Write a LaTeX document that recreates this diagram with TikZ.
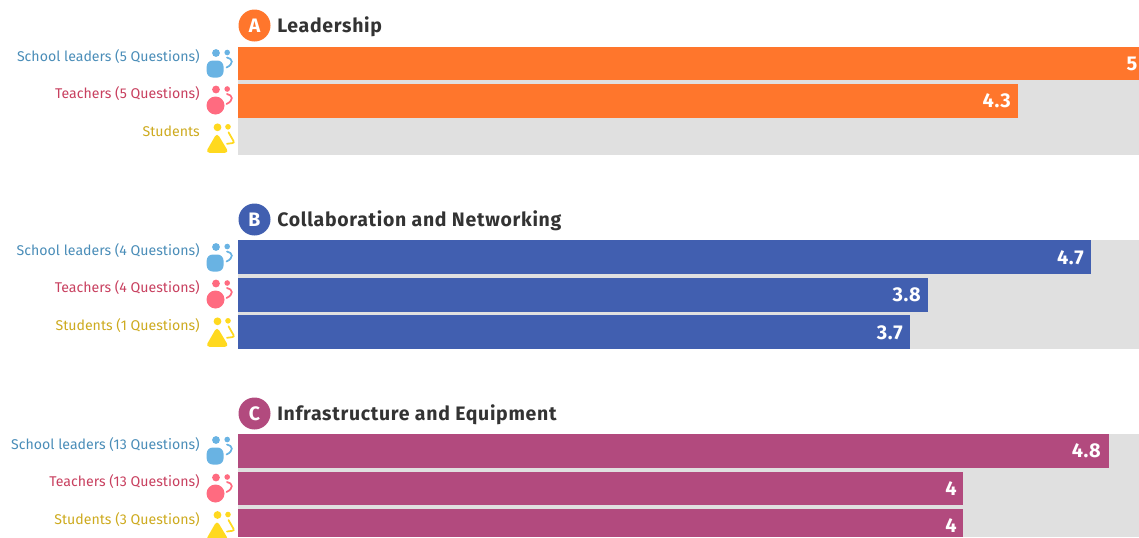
\documentclass[tikz,border=0pt]{standalone}
\usepackage{fontspec}
\setmainfont{Fira Sans}
\definecolor{track}{HTML}{E0E0E0}
\definecolor{cA}{HTML}{FF762C}
\definecolor{cB}{HTML}{415FB0}
\definecolor{cC}{HTML}{B24A7E}
\definecolor{tS}{HTML}{4A8DB8}
\definecolor{tT}{HTML}{C8405F}
\definecolor{tU}{HTML}{CDAA1E}
\definecolor{iS}{HTML}{69B3E3}
\definecolor{iT}{HTML}{FF6B80}
\definecolor{iU}{HTML}{FFD91F}
\definecolor{ink}{HTML}{333333}
\tikzset{
  rowlabel/.style={anchor=east,inner sep=0pt,font=\fontsize{10.6}{12}\selectfont},
  value/.style={anchor=east,inner sep=0pt,text=white,font=\fontsize{15}{16}\bfseries\selectfont\addfontfeature{LetterSpace=3}},
  badge/.style={circle,minimum size=24pt,inner sep=0pt,text=white,font=\fontsize{14.6}{16}\bfseries\selectfont},
  heading/.style={anchor=west,inner sep=0pt,text=ink,font=\fontsize{14.6}{16}\bfseries\selectfont\addfontfeature{LetterSpace=3.6}},
}
\newcommand{\trackbar}[3]{\fill[#3] (238,#1) rectangle (1139,#2);}
\newcommand{\valbar}[4]{\fill[#4] (238,#1) rectangle (#3,#2);}
\newcommand{\smallpart}[2]{%
  \fill[#2] (216,#1+4) circle (3.9);
  \fill[#2] (227.2,#1+3.5) circle (2.8);
  \draw[#2,line width=1.3pt,line cap=round] (227,#1+8.5) .. controls (233,#1+9.5) and (234,#1+15) .. (226.5,#1+18.5);
}
\newcommand{\iconS}[1]{\smallpart{#1}{iS}\fill[iS,rounded corners=4.5] (206.7,#1+11.5) rectangle (223.5,#1+28.5);}
\newcommand{\iconT}[1]{\smallpart{#1}{iT}\fill[iT] (215.5,#1+20) circle (9);}
\newcommand{\iconU}[1]{%
  \fill[iU] (217.5,#1+4) circle (3.9);
  \fill[iU] (228,#1+3.5) circle (2.8);
  \draw[iU,line width=1.3pt,line cap=round,rounded corners=1.5] (228.5,#1+9) -- (234.5,#1+19.5) -- (227,#1+20.5);
  \fill[iU,rounded corners=3] (217,#1+9.5) -- (229,#1+29.5) -- (205.5,#1+29.5) -- cycle;}
\begin{document}
\begin{tikzpicture}[x=0.75pt,y=-0.75pt]
\useasboundingbox (0,0) rectangle (1139,537);
\clip (0,0) rectangle (1139,537);
% Section A
\node[badge,fill=cA] (ba) at (254.5,25.5) {A};
\node[heading] (ha) at (277,26.5) {Leadership};
\trackbar{47}{155}{track}
\valbar{47}{80}{1139}{cA}
\valbar{84}{118}{1018}{cA}
\node[value] (a1) at (1137.5,64) {5};
\node[value] (a2) at (1011,101) {4.3};
\node[rowlabel,text=tS] (la1) at (200,56.5) {School leaders (5 Questions)};
\node[rowlabel,text=tT] (la2) at (200,94) {Teachers (5 Questions)};
\node[rowlabel,text=tU] (la3) at (200,131.5) {Students};
\iconS{49}\iconT{85.5}\iconU{123.3}
% Section B
\node[badge,fill=cB] (bb) at (254.5,219.5) {B};
\node[heading] (hb) at (277,220.5) {Collaboration and Networking};
\trackbar{240}{349}{track}
\valbar{240}{274}{1091}{cB}
\valbar{278}{312}{928}{cB}
\valbar{315}{349}{910}{cB}
\node[value] (b1) at (1084,258) {4.7};
\node[value] (b2) at (921,295) {3.8};
\node[value] (b3) at (903,332.5) {3.7};
\node[rowlabel,text=tS] (lb1) at (200,250.5) {School leaders (4 Questions)};
\node[rowlabel,text=tT] (lb2) at (200,288) {Teachers (4 Questions)};
\node[rowlabel,text=tU] (lb3) at (200,325.5) {Students (1 Questions)};
\iconS{243}\iconT{279.5}\iconU{317.3}
% Section C
\node[badge,fill=cC] (bc) at (254.5,413.5) {C};
\node[heading] (hc) at (277,414.5) {Infrastructure and Equipment};
\trackbar{434}{537}{track}
\valbar{434}{468}{1109}{cC}
\valbar{472}{505}{963}{cC}
\valbar{509}{537}{963}{cC}
\node[value] (c1) at (1101,451) {4.8};
\node[value] (c2) at (957,489) {4};
\node[value] (c3) at (957,526) {4};
\node[rowlabel,text=tS] (lc1) at (200,444.5) {School leaders (13 Questions)};
\node[rowlabel,text=tT] (lc2) at (200,482) {Teachers (13 Questions)};
\node[rowlabel,text=tU] (lc3) at (200,519.5) {Students (3 Questions)};
\iconS{436}\iconT{473.5}\iconU{511}
\end{tikzpicture}
\end{document}
